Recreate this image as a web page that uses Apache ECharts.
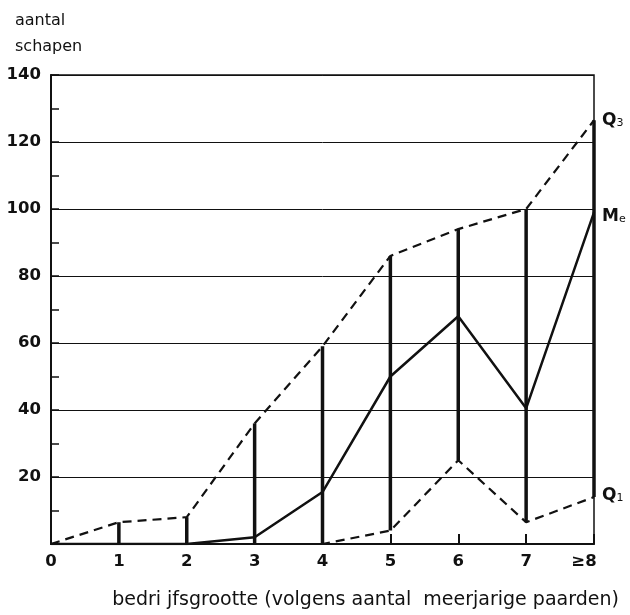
<!DOCTYPE html>
<html>
<head>
<meta charset="utf-8">
<script src="https://cdn.jsdelivr.net/npm/echarts@6/dist/echarts.min.js"></script>
<style>
  html, body { margin: 0; padding: 0; background: #fff; }
  #chart { width: 630px; height: 615px; }
</style>
</head>
<body>
<div id="chart"></div>
<script>
// bedrijfsgrootte (aantal meerjarige paarden), 8 = ">=8"
const sizes = [0, 1, 2, 3, 4, 5, 6, 7, 8];
const xLabels = ['0', '1', '2', '3', '4', '5', '6', '7', '≥8'];
// aantal schapen: kwartielen en mediaan
const q3 = [0, 6.5, 8, 36, 59, 86, 94, 100, 126.5];
const median = [0, 0, 0, 2, 15.5, 50, 68, 40.5, 99];
const q1 = [0, 0, 0, 0, 0, 4, 25, 6.5, 14];

const font = 'DejaVu Sans';
const ink = '#111';

const chart = echarts.init(document.getElementById('chart'));

// lijst van [x, y] paren voor de lijnen
const pairs = (vals) => sizes.map((s, i) => [s, vals[i]]);
// verticale balken van Q1 tot Q3
const bars = sizes.slice(1).map((s) => [s, q1[s], q3[s]]);

const sub = {
  m: { fontFamily: font, fontSize: 17, fontWeight: 'bold', color: ink },
  s: { fontFamily: font, fontSize: 11, color: ink, verticalAlign: 'bottom' }
};

const option = {
  backgroundColor: '#fff',
  animation: false,
  title: {
    text: 'aantal\nschapen',
    left: 10,
    top: 3,
    textStyle: { fontFamily: font, fontSize: 16, fontWeight: 'normal', color: ink, lineHeight: 26 }
  },
  grid: {
    left: 51, right: 36, top: 75, bottom: 64,
    show: true, borderColor: ink, borderWidth: 1.5
  },
  xAxis: {
    type: 'value',
    min: 0, max: 8, interval: 1,
    name: 'bedri jfsgrootte (volgens aantal  meerjarige paarden)',
    nameLocation: 'middle',
    nameGap: 47,
    nameTextStyle: { fontFamily: font, fontSize: 19, color: ink, padding: [0, 0, 0, 86] },
    axisLine: { show: true, lineStyle: { color: ink, width: 2 } },
    axisTick: { show: true, inside: true, length: 10, lineStyle: { color: ink, width: 2 } },
    splitLine: { show: false },
    axisLabel: {
      margin: 9,
      fontFamily: font, fontSize: 16.5, fontWeight: 'bold', color: ink,
      formatter: (v) => v === 8 ? '{r|' + xLabels[v] + '}' : xLabels[v],
      rich: { r: { fontFamily: font, fontSize: 16.5, fontWeight: 'bold', color: ink, padding: [0, 20, 0, 0] } }
    }
  },
  yAxis: {
    type: 'value',
    min: 0, max: 140, interval: 20,
    axisLine: { show: true, lineStyle: { color: ink, width: 2 } },
    axisTick: { show: true, inside: true, length: 8, lineStyle: { color: ink, width: 1.5 } },
    minorTick: { show: true, splitNumber: 2, length: 8, lineStyle: { color: ink, width: 1.5 } },
    splitLine: { show: true, lineStyle: { color: ink, width: 1 } },
    axisLabel: {
      margin: 10,
      fontFamily: font, fontSize: 16.5, fontWeight: 'bold', color: ink,
      formatter: (v) => v === 0 ? '' : String(v)
    }
  },
  series: [
    {
      type: 'custom',
      data: bars,
      z: 3,
      renderItem: (params, api) => {
        const lo = api.coord([api.value(0), api.value(1)]);
        const hi = api.coord([api.value(0), api.value(2)]);
        return {
          type: 'line',
          shape: { x1: lo[0], y1: lo[1], x2: hi[0], y2: hi[1] },
          style: { stroke: ink, lineWidth: 3.5 }
        };
      }
    },
    {
      name: 'Q3', type: 'line', data: pairs(q3), symbol: 'none', z: 4,
      lineStyle: { color: ink, width: 2.2, type: [9, 6] },
      endLabel: { show: true, distance: 8, formatter: '{m|Q}{s|3}', rich: sub }
    },
    {
      name: 'Me', type: 'line', data: pairs(median), symbol: 'none', z: 4,
      lineStyle: { color: ink, width: 2.5 },
      endLabel: { show: true, distance: 8, offset: [0, 4], formatter: '{m|M}{s|e}', rich: sub }
    },
    {
      name: 'Q1', type: 'line', data: pairs(q1), symbol: 'none', z: 4,
      lineStyle: { color: ink, width: 2.2, type: [9, 6] },
      endLabel: { show: true, distance: 8, offset: [0, -2], formatter: '{m|Q}{s|1}', rich: sub }
    }
  ]
};

chart.setOption(option);
</script>
</body>
</html>
